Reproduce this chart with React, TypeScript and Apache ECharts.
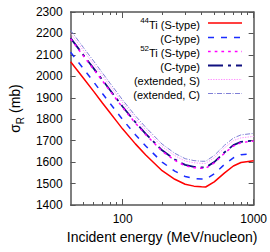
import React, { useEffect, useRef } from "react";
import * as echarts from "echarts";

const energies = [40, 50, 60, 70, 80, 90, 100, 125, 150, 200, 250, 300, 350, 400, 430, 500, 600, 700, 800, 1000];
const ti44S = [2068, 1992, 1930, 1876, 1830, 1790, 1754, 1685, 1633, 1560, 1520, 1497, 1488, 1485, 1484, 1508, 1550, 1582, 1598, 1606];
const ti44C = [2112, 2036, 1974, 1920, 1874, 1834, 1798, 1728, 1675, 1600, 1558, 1533, 1524, 1521, 1521, 1545, 1590, 1620, 1634, 1640];
const ti52S = [2175, 2096, 2033, 1979, 1932, 1891, 1854, 1782, 1728, 1651, 1608, 1583, 1574, 1571, 1571, 1596, 1642, 1675, 1691, 1698];
const ti52C = [2178, 2100, 2037, 1983, 1936, 1895, 1858, 1786, 1732, 1655, 1612, 1587, 1578, 1575, 1575, 1600, 1646, 1679, 1694, 1701];
const extS = [2200, 2121, 2057, 2003, 1955, 1914, 1877, 1804, 1750, 1672, 1630, 1605, 1597, 1594, 1594, 1620, 1667, 1700, 1713, 1720];
const extC = [2215, 2135, 2071, 2016, 1968, 1927, 1889, 1816, 1762, 1684, 1641, 1616, 1607, 1604, 1604, 1631, 1679, 1712, 1727, 1734];

const yMin = 1400;
const yMax = 2300;
const yStep = 100;
const xMin = 40;
const xMax = 1000;
const majorX = [100, 1000];
const minorX = [50, 60, 70, 80, 90, 200, 300, 400, 500, 600, 700, 800, 900];

const legendLabels = ["{s|44}{t|Ti (S-type)}", "{t|(C-type)}", "{s|52}{t|Ti (S-type)}", "{t|(C-type)}", "{t|(extended, S)}", "{t|(extended, C)}"];

const FONT = "Liberation Sans, Arial, Helvetica, sans-serif";
const FRAME = "#555";

const styles = [
  { color: "#ff0000", width: 1.5, dash: "solid" as any },
  { color: "#1a2cff", width: 1.5, dash: [6, 7] },
  { color: "#ff00ff", width: 1.5, dash: [2.7, 4] },
  { color: "#101080", width: 1.8, dash: [15, 5, 3, 5] },
  { color: "#ff8cff", width: 1, dash: [1.3, 1.3] },
  { color: "#7f7fd6", width: 1, dash: [5, 1.5, 1, 1.5] },
];

const seriesData = [ti44S, ti44C, ti52S, ti52C, extS, extC];

export default function App() {
  const ref = useRef<HTMLDivElement>(null);
  useEffect(() => {
    if (!ref.current) return;
    const chart = echarts.init(ref.current, undefined, { renderer: "svg" });
    const lg = (v: number) => Math.log10(v);
    const tickAxis = (pos: string, values: number[], len: number, line: boolean, labels: boolean, name?: string) => ({
      type: "value",
      position: pos,
      min: lg(xMin),
      max: lg(xMax),
      axisLine: { show: line, lineStyle: { color: FRAME, width: 1.5 } },
      axisTick: { show: true, inside: true, length: len, customValues: values.map(lg), lineStyle: { color: FRAME, width: 1 } },
      axisLabel: labels
        ? {
            show: true,
            customValues: values.map(lg),
            formatter: (v: number) => String(Math.round(Math.pow(10, v))),
            fontSize: 12,
            fontFamily: FONT,
            color: "#000",
            margin: 8,
          }
        : { show: false },
      splitLine: { show: false },
      name: name || "",
      nameLocation: "middle",
      nameGap: 24,
      nameTextStyle: { fontSize: 14, fontFamily: FONT, color: "#000" },
    });

    const graphics: any[] = [];
    const rowY = [23, 37.5, 51.5, 65.5, 79.5, 93.5];
    legendLabels.forEach((t, i) => {
      graphics.push({
        type: "text",
        x: 200,
        y: rowY[i],
        style: {
          text: t,
          align: "right",
          textAlign: "right",
          verticalAlign: "middle",
          textVerticalAlign: "middle",
          rich: {
            t: { fontSize: 11, fontFamily: FONT, fill: "#000", color: "#000", lineHeight: 14, verticalAlign: "bottom" },
            s: { fontSize: 8, fontFamily: FONT, fill: "#000", color: "#000", lineHeight: 14, verticalAlign: "top", padding: [0, 0, 4, 0] },
          },
        },
      });
      const s = styles[i];
      graphics.push({
        type: "line",
        shape: { x1: 208, y1: rowY[i], x2: 242, y2: rowY[i] },
        style: { stroke: s.color, lineWidth: s.width, lineDash: s.dash === "solid" ? null : s.dash },
      });
    });

    chart.setOption({
      animation: false,
      grid: { left: 70, right: 15, top: 12, bottom: 47 },
      xAxis: [
        { type: "log", logBase: 10, min: xMin, max: xMax, show: false },
        tickAxis("bottom", majorX, 6, true, true, "Incident energy (MeV/nucleon)"),
        tickAxis("bottom", minorX, 3, false, false),
        tickAxis("top", majorX, 6, true, false),
        tickAxis("top", minorX, 3, false, false),
      ],
      yAxis: [
        {
          type: "value",
          position: "left",
          min: yMin,
          max: yMax,
          interval: yStep,
          axisLine: { show: true, lineStyle: { color: FRAME, width: 1.5 } },
          axisTick: { show: true, inside: true, length: 5, lineStyle: { color: FRAME } },
          axisLabel: { fontSize: 12, fontFamily: FONT, color: "#000", margin: 8, formatter: (v: number) => String(v) },
          splitLine: { show: false },
          name: "{a|σ}{b|R}{a| (mb)}",
          nameLocation: "middle",
          nameRotate: 90,
          nameGap: 44,
          nameTextStyle: {
            rich: {
              a: { fontSize: 14, fontFamily: FONT, color: "#000", lineHeight: 20, verticalAlign: "middle" },
              b: { fontSize: 10, fontFamily: FONT, color: "#000", lineHeight: 10, verticalAlign: "bottom" },
            },
          },
        },
        {
          type: "value",
          position: "right",
          min: yMin,
          max: yMax,
          interval: yStep,
          axisLine: { show: true, lineStyle: { color: FRAME, width: 1.5 } },
          axisTick: { show: true, inside: true, length: 5, lineStyle: { color: FRAME } },
          axisLabel: { show: false },
          splitLine: { show: false },
        },
      ],
      series: seriesData.map((d, i) => ({
        type: "line",
        xAxisIndex: 0,
        yAxisIndex: 0,
        data: energies.map((e, j) => [e, d[j]]),
        showSymbol: false,
        symbol: "none",
        smooth: false,
        lineStyle: { color: styles[i].color, width: styles[i].width, type: styles[i].dash },
        z: 10 - i,
      })),
      graphic: graphics,
    });
    return () => chart.dispose();
  }, []);
  return <div ref={ref} style={{ width: 270, height: 252, position: "absolute", left: 0, top: 0 }} />;
}
